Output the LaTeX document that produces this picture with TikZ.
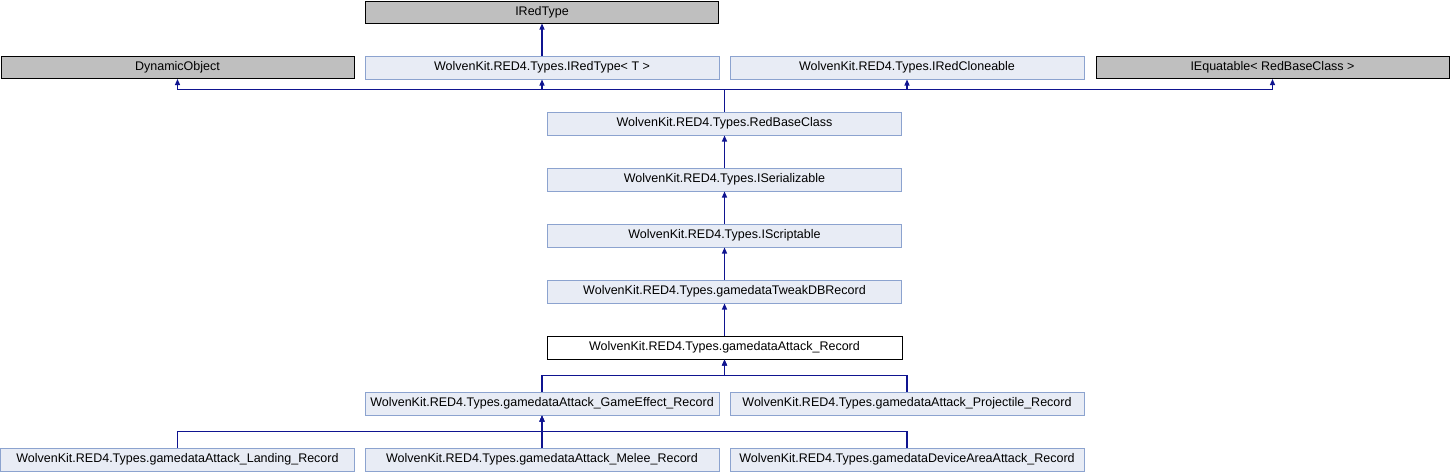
\documentclass[tikz,border=0pt]{standalone}
\usepackage{fontspec}
\setmainfont{Liberation Sans}
\usetikzlibrary{arrows.meta}
\definecolor{boxfill}{HTML}{E8ECF5}
\definecolor{boxdraw}{HTML}{8CA3CF}
\definecolor{grayfill}{HTML}{BFBFBF}
\definecolor{edgecol}{HTML}{0F1490}
\begin{document}
\begin{tikzpicture}[x=1pt,y=-1pt,
  cls/.style={draw=boxdraw,fill=boxfill,line width=1pt,minimum width=354pt,minimum height=23pt,inner sep=0pt,font=\fontsize{12.5}{14}\selectfont},
  ext/.style={draw=black,fill=grayfill,line width=1pt,minimum width=353pt,minimum height=22pt,inner sep=0pt,font=\fontsize{12.5}{14}\selectfont},
  cur/.style={draw=black,fill=white,line width=1pt,minimum width=355pt,minimum height=23pt,inner sep=0pt,font=\fontsize{12.5}{14}\selectfont},
  edge/.style={draw=edgecol,line width=1.2pt,-{Triangle[width=5pt,length=6pt]}}]
\useasboundingbox (0,0) rectangle (1450,472);
\node[ext] (ired) at (542,12) {IRedType};
\node[ext] (dyn) at (177.5,67.5) {DynamicObject};
\node[cls] (iredt) at (542,67.5) {WolvenKit.RED4.Types.IRedType< T >};
\node[cls] (iclone) at (907,67.5) {WolvenKit.RED4.Types.IRedCloneable};
\node[ext] (ieq) at (1272.5,67.5) {IEquatable< RedBaseClass >};
\node[cls] (rbc) at (724.5,123.5) {WolvenKit.RED4.Types.RedBaseClass};
\node[cls] (iser) at (724.5,179.5) {WolvenKit.RED4.Types.ISerializable};
\node[cls] (iscr) at (724.5,235.5) {WolvenKit.RED4.Types.IScriptable};
\node[cls] (tweak) at (724.5,291.5) {WolvenKit.RED4.Types.gamedataTweakDBRecord};
\node[cur] (atk) at (724.5,347.5) {WolvenKit.RED4.Types.gamedataAttack\_Record};
\node[cls] (ge) at (542,403.5) {WolvenKit.RED4.Types.gamedataAttack\_GameEffect\_Record};
\node[cls] (proj) at (907,403.5) {WolvenKit.RED4.Types.gamedataAttack\_Projectile\_Record};
\node[cls] (land) at (177.5,459.5) {WolvenKit.RED4.Types.gamedataAttack\_Landing\_Record};
\node[cls] (melee) at (542,459.5) {WolvenKit.RED4.Types.gamedataAttack\_Melee\_Record};
\node[cls] (dev) at (907,459.5) {WolvenKit.RED4.Types.gamedataDeviceAreaAttack\_Record};
\draw[edge] (iredt.north) -- (ired.south);
\foreach \p in {dyn,iredt,iclone,ieq}{
  \draw[edge] (rbc.north) -- ++(0,-22) -| (\p.south);
}
\draw[edge] (iser.north) -- (rbc.south);
\draw[edge] (iscr.north) -- (iser.south);
\draw[edge] (tweak.north) -- (iscr.south);
\draw[edge] (atk.north) -- (tweak.south);
\foreach \c in {ge,proj}{
  \draw[edge] (\c.north) -- ++(0,-16) -| (atk.south);
}
\foreach \c in {land,melee,dev}{
  \draw[edge] (\c.north) -- ++(0,-16) -| (ge.south);
}
\end{tikzpicture}
\end{document}
